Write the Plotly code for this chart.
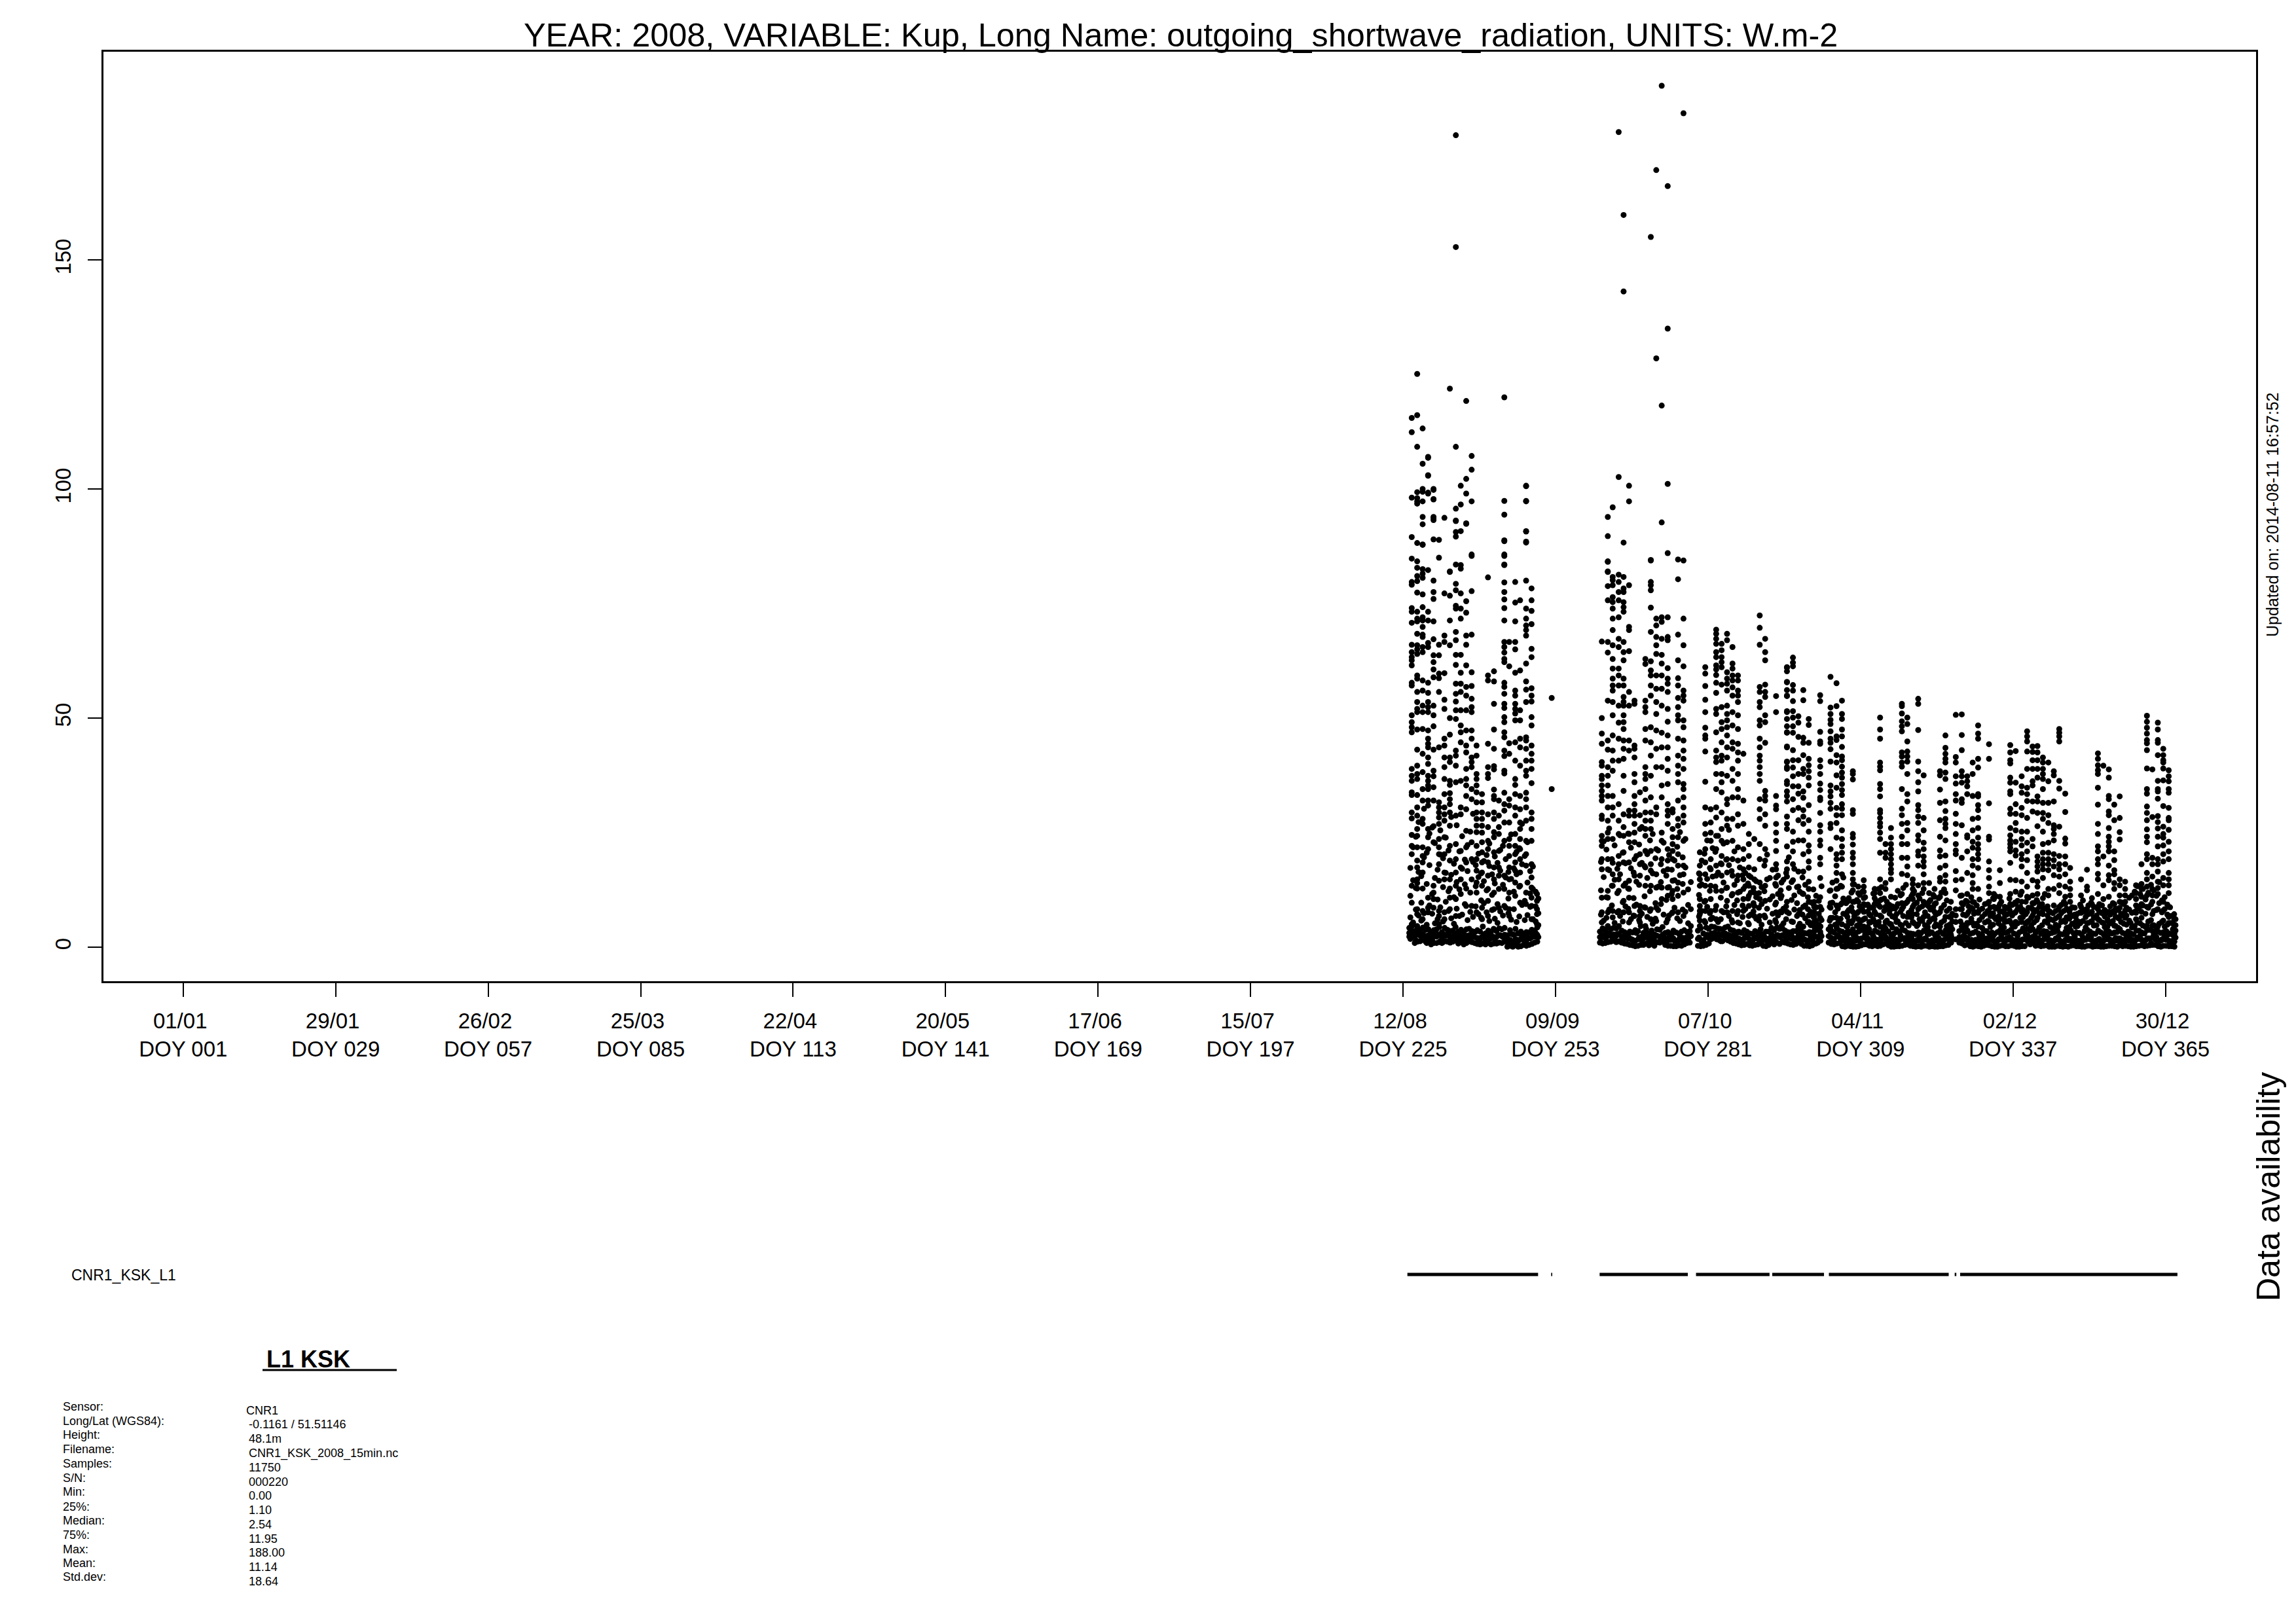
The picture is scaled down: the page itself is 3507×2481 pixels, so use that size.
import plotly.graph_objects as go

W, H = 3507, 2481

tick_doys = [1, 29, 57, 85, 113, 141, 169, 197, 225, 253, 281, 309, 337, 365]
tick_dates = ["01/01", "29/01", "26/02", "25/03", "22/04", "20/05", "17/06", "15/07",
              "12/08", "09/09", "07/10", "04/11", "02/12", "30/12"]
tick_doy_names = ["DOY 001", "DOY 029", "DOY 057", "DOY 085", "DOY 113", "DOY 141", "DOY 169",
                  "DOY 197", "DOY 225", "DOY 253", "DOY 281", "DOY 309", "DOY 337", "DOY 365"]
y_ticks = [0, 50, 100, 150]

# daylight readings: (day of year, values in W/m2), read column by column
aug_sep = [
 (226.6,[115.5,112.4,98.1,89.5,84.8,79.7,79.1,74,73.2,70.8,66,64.4,63.3,62.6,61.5,57.7,57.1,50.6,49.1,48,46.9,38.9,37.4,36.3,33.8,33.2,29.4,28.1,24.5,22.1,20.3,13.4,9.7,5]),
 (227.6,[125.1,116.1,109.2,99.3,97.3,98,96.8,88.2,84.2,82.8,81,79.9,77.4,73.2,71.7,71.1,68.4,65.9,65,64,59.3,58.6,55.7,53.5,52,51.3,47.5,43.1,39.6,37.8,36.7,33.2,30.5,28.7,25.8,24.3,21.8,18.9,17.4,14.8,14,12.8,8.3,7.2,4.6]),
 (228.6,[113.2,105.5,100,97.3,93.9,92.3,87.8,99.4,87.9,82.5,81.5,80.6,77,74.2,72,71.3,69.9,68.2,67.7,65.5,64.4,58.2,56,52.7,51.3,47.6,42.2,38.2,34.5,32,28,26.9,21.8,19.9,18.5,16.3,12.8,7.9,6.1]),
 (229.6,[106.8,102.9,99.2,107,103,99,82.3,73.2,71.3,66.4,65.5,57.7,55.5,53.5,52.4,51.3,47.3,45.5,44.4,43.6,41.4,40,37.4,36.3,35.3,34.5,32,30.9,25.8,24,21.4,10.8,8.6,7.6]),
 (230.6,[99.8,97.7,93.6,89,100,97.8,93.9,93.2,80,77.5,76,71.1,67.2,63.7,62.2,60.6,58.9,52.7,50.6,48.2,43.1,38.5,37.3,34.9,32,26.4,22.9,13.4,11.9,10.5,8.6]),
 (231.6,[88.9,85,66,63.7,59.7,58.7,55.7,43.6,31.6,30.5,29.4,28.3,26.9,23.6,21.8,20.3,18.1,14.5,7.9,6.8,5]),
 (232.6,[93.7,77.2,68,66.6,59.8,54,52,45.5,44,41.4,39.3,36.7,33.4,30.5,29,27.6,24,20.3,16.3,14.8,7.6,6.1]),
 (233.6,[121.9,81.9,76.7,82,71.3,65.9,50,46.4,41.4,40.4,36.3,35.4,33.6,32.3,31.2,29.4,26.5,22.1,18.9,14.8,12.8,10.8,8.3]),
 (234.7,[177.2,152.8,109.2,95.7,93.1,93,90.6,89.6,83.5,79.3,77.9,74.5,73.9,68.8,67,63.8,61.6,57.5,55.3,53.6,51.7,49.8,42.9,41.8,39.6,36,28.7,22.5,19.2,16.3,13.4,10.5,6.8]),
 (235.6,[100.7,96.6,90.8,83.4,82.6,77.2,73.9,71.7,63.8,59.9,57.5,55.7,51.7,48.4,46.9,44.7,36.3,30.5,29,21,17.4,14.8,11.6]),
 (236.6,[119.2,102.2,99,92.4,92.5,75.5,73,68,66,61.5,56.8,54.9,51.7,47.3,44,42.5,38.9,36.7,35.3,33,30.1,25.4,21.8,18.5,12.8,9]),
 (237.6,[107.2,104.2,97.3,85.7,85.4,77.7,68.2,60,57,54.2,52.4,51.3,47.3,45.5,41.4,40.4,39.3,34.5,32.3,22.9,19.2,14.8,9]),
 (238.5,[44,41.8,37.8,36.7,35.3,33.8,31.6,29.4,28,26.5,25.1,22.1,19.2,16.7,14.1,11.9,7.6]),
 (239.5,[33.4,31.6,29.4,28,26.5,25,22.9,20.7,18.5,16.3,13.4,8.6,6.1]),
 (240.6,[80.7,59.3,58.2,44.4,39.3,37.8,36.9,29,26.2,23.2,21.4,18.5,15.6,12.7,10.1,6.8]),
 (241.7,[60.2,58,53.1,47.5,43.3,39.5,38.8,34.4,33,32.3,29.4,28,25.1,24,20.7,17.4,14.8,11.9,8.3]),
 (242.6,[32,28.7,26.2,24.7,21,17.4,15.6,12.7,8.6]),
 (243.6,[120,97.4,94.4,88.6,85.4,83.4,88.8,85.7,83.5,79.6,77.5,75.9,74,71.3,66.6,65.5,64.3,62.9,62.2,57.7,56.8,55.3,53.1,52.2,50.2,49.1,46.9,45.8,42.9,41.7,38.5,37.9,33.7,31.2,29.8,27.2,23.2,15.6,12.7,9]),
 (244.5,[66.6,61.3,44.5,42.2,32.3,30.9,27.2,23.6,22.1,19.9,17.4,14.8,11.9,8.3,6.8]),
 (245.6,[79.7,75.2,71.1,66.6,65,59.9,56,54.9,53.1,52,51,49.5,44.7,40.7,36.7,35.4,33.4,30.5,28.7,24.7,22.1,20.3,18.5,16.7,14.1,11.2]),
 (246.5,[75.7,60.4,51.7,49.5,45.5,43.6,39.6,33,30.1,27.2,25.8,23.6,21.4,19.2,16.3,13.4,9.7]),
 (247.6,[100.6,97.3,90.7,88.3,100.7,97.4,90.8,88.5,80,73.9,71.7,70.2,69.2,68,61.9,58,56.2,53.5,45.8,45.1,43.3,40.7,38.5,37.4,33.7,32.3,30.5,27.6,23.2,20.3,17.8,11.9,9.4]),
 (248.6,[78.3,75.7,73.4,70.5,65.1,63.3,56.5,54.9,53.6,50.2,48.4,44,42.2,40.7,38.9,35.8,29.4,28,25.8,23.2,18.1,15.2,13,10.8,9,6.1]),
 (249.6,[11.6,10.1,8.3,7.2,5]),
 (252.3,[54.4,34.5]),
]
oct_early = [
 (261.5,[66.7,50,46.6,44.4,40.4,39.6,37.4,36.7,35.3,34.1,33,32,28.7,28,24.3,23.2,22.1,19.2,17,10.8,7.6,5.4]),
 (262.6,[93.9,89.7,84.1,81.9,84.2,82,78.8,75.7,66.6,64.3,53.8,45.1,43.1,39.3,37.4,35.3,33,30.5,27.6,25,23.6,19.2,17,12.3,10.8,7.6,4.6]),
 (263.5,[96,80.8,80.1,79,76.4,75.3,73.9,71.7,69.2,65.9,62.9,60.8,58.6,57.1,56,53.5,50.6,46.2,42.9,40.7,38.5,33,30.5,28.7,23.6,18.4,15.9,13.4,7.9,6.5]),
 (264.6,[177.9,102.6,81.3,79.7,77.5,75.7,72,67.3,65.5,60.8,59.3,57.1,52.7,49,45.5,40.7,31.2,27.6,24.7,19.9,18.1,14.8,12.3,7.9]),
 (265.5,[159.8,143.1,88.3,80.8,78.3,77.5,75.3,74.2,73.2,66.6,64.4,62.6,58.6,57.1,54.6,53.5,52.7,50.6,49.1,47.6,45.1,43.3,41.1,37.4,34.1,29,26.2,24.3,20.7,18.5,13.4,10.1,7.6]),
 (266.5,[100.7,97.3,79,69.9,69.2,64.6,55.7,52.7,45.1,42.9,29.8,28.7,24.7,22.9,18.5,14.5,12.7,10.8,7.6,5.4]),
 (267.5,[53.8,53.1,44,43.3,41.4,37.8,36,33,31.2,29.8,28.7,26.9,25,22.9,19.2,15.6,9,6.8]),
 (268.5,[33.8,28.8,25.8,20.3,18.1,15.6,9,7.9,6.8,5.4]),
 (269.5,[62.9,61.8,53.8,52.4,51.3,47.6,45.1,39.3,37.8,36.7,34.5,32,29.4,27.6,25.8,24.3,21,17.4,13.4,8.6,4.6]),
 (270.5,[155,84.4,84.5,79.7,79,77.9,74.1,68.8,62.4,60.4,59.3,57.1,54.9,48,44.7,41.8,37.4,32.7,29.4,27.6,25.8,21,18.1,16.7,13.4,8.3,6.1]),
 (271.5,[169.6,128.5,71.7,70.2,67.7,65.9,64,59.3,56.4,53.5,50.9,47.3,43.3,39.3,30.5,29,21.4,15.9,13,8.6,5.7]),
 (272.5,[188,118.2,92.7,72,71,67.3,63.8,61.9,59.3,56.4,52.7,46.8,43.6,39.3,35.3,32.7,25,23.2,19.2,13,10.5]),
 (273.6,[166.1,135,101.1,86,72,67.7,67,60.9,58.6,57.5,55.7,52,49.2,46.2,43.6,41.1,38.5,35.6,31.2,29.8,28.7,26.9,21.4,18.9,17,13,11.2,6.1]),
 (274.5,[30.1,29.4,25.8,24,22.5,21,19.2,14.5,12.3,10.5,7.6]),
 (275.5,[84.6,80.3,68.2,62.6,58.7,57.1,54.4,52.4,50.6,49.5,45.5,41.8,39.6,37.8,36,32,28,26.5,24,20.3,17.8,14.1,11.2,7.6]),
 (276.5,[182,84.4,71.7,65.9,61.3,56,54.9,53.8,49.5,48,45.1,42.9,41.1,38.9,35.6,34.5,32.7,30.5,28.7,27.2,23.2,17.8,15.9,11.9,6.8]),
 (279.5,[20.7,17.8,15.9,14.8,13.4,10.5,9,7.9,7.2,5.8,4.6]),
 (280.5,[61.1,59.7,57,54,51.3,47.9,46.2,45.5,42.7,36.1,30.5,26.9,24.7,21.4,18.5,15.9,13.4,10.1,7.9,5.4]),
 (281.5,[30.1,27.2,25,23.2,19.2,17,13.4,10.5,7.9,6.1]),
 (282.5,[69.3,68.4,67.3,66.2,64.4,63.3,61.5,60.6,59.4,57.7,55.5,52,50.9,46.9,42.9,41.4,40.4,37.8,34.5,30.5,28.3,24.3,21.4,17.8,15.6,12.3,9,6.1]),
 (283.5,[66.2,64.8,63.3,62.2,61.1,57.3,52.4,49.1,47.6,44.7,41.8,40.7,37.8,36,33.8,29.4,25.8,23.2,19.9,18.1,15.6,12.3,7.9]),
 (284.5,[68.4,67,60,58.6,57.5,56,52.7,50.9,49.5,48,46.2,43.6,41.4,37.4,32.3,31.2,28,26.5,22.9,19.2,16.3,13,10.1,7.6]),
 (285.5,[65.5,61.9,60.8,59.3,58.2,56.7,54.9,51.3,48.4,44.7,43.3,38.9,36.3,32.7,28,23.2,19.2,15.6,11.6,7.9,5.4]),
 (286.5,[59.3,58.2,56,54.9,53.5,50.6,47.6,44.4,42.5,40.7,37.8,34.5,32.7,29,26.5,21.8,18.9,15.6,11.9,7.9,5.4]),
 (287.5,[42.2,32,26.9,21.4,19.2,17,14.8,12.7,10.5,7.9]),
 (288.5,[24.7,22.5,19.9,17.4,15.6,13.4,11.2,9,6.8,5]),
 (289.5,[23.6,17,14.8,11.9,9,6.8]),
 (290.5,[72.4,69.7,66,56.8,55.7,53.5,52.4,49.5,48.4,45.5,43.6,41.8,40.7,39.3,37.8,36.3,32.3,30.1,28,22.5,19.2,14.1,10.5,6.8]),
 (291.5,[67.3,64.4,62.6,57.3,55.7,54.6,50.6,49.1,44.6,34.1,33,32,29,26.5,21.4,18.9,13.4,10.1,6.5]),
 (293.5,[54.8,51.3,33,30.9,30.1,26.9,25,23.2,21,18.1,17,15.2,13.4,9.7,7.6,5.4]),
 (294.5,[14.1,11.2,7.6,4.6]),
]
oct_nov = [
 (295.5,[61.1,57.9,54.9,51.3,49.8,46.9,43.6,40.4,39.3,35.6,33,26.9,61,60.2,57.8,56.1,54.8,51.5,48.2,46.8,43.8,40.5,38.9,36.2,34,31.8,28.5,25.8,22,18.7,17,15.4,9.9,7.7]),
 (296.6,[63.2,62.1,61.3,57.2,56,53.7,51.5,50.1,48.2,46.8,43,40.8,39.2,37.3,35.1,32.3,29.9,25.2,23,20.9,18.1,14.6,5.5]),
 (297.6,[50.4,49,45.9,40.8,37.8,35.1,33.5,30.4,27.7,23.3,16.5,13.2,7.2,4.5]),
 (298.5,[56.1,53.9,45.7,44.6,41.9,38.9,37.8,34,32.6,29.9,28.5,26.9,23.3,20.3,16.5,11.6,8.8,4.5]),
 (299.5,[49.8,48.5,44.6,41.1,39.7,38.4,37,35.3,31,27.7,25.2,22.2,20.9,18.7,17.3,14.3,12.7,9.9,6.9,5.5]),
 (300.5,[9.9,8.8,7.7,6.6,5.5,4.5,3.4]),
 (301.6,[55,53.7,47,44.9,44.4,40.8,39.4,37.8,35.7,34.3,32.6,32.1,29.3,26.6,25.2,23.3,22.2,19.5,18.1,15.1,10.9,8.8,6.4,4.5,3.4]),
 (303.5,[59,52.3,50.9,49.6,48.7,47.1,45.5,44.6,43.2,40.5,35.3,34,32.9,31.5,30.2,26.9,26,21.4,12.4,9.6,8.6,6.4,4.5,3.4]),
 (304.6,[57.6,52.6,46,45.2,41.9,40.3,37.5,34.8,30.4,28.8,27.1,23.9,20.3,19.2,17.8,16.2,14.5,12.7,9.1,6.4,4.5]),
 (305.6,[53.8,50.9,49.8,47.5,46,43.7,41.6,40.8,39.4,38.1,37,35.6,34.3,33.2,31.2,30.2,28.8,25.5,23.6,22,20.6,19.2,15.9,13.2,9.6,5]),
 (306.6,[9.9,7.7,6.6,4.5,2.8]),
 (307.6,[38.4,37.8,36.6,29.9,29.1,24.7,23.9,22.4,20.6,19.5,18.1,16.2,14.8,13.7,12.4,9.9,7.7,5.8,3.9]),
 (308.6,[13.2,11.8,9.9,7.7,6.1,4.5]),
 (309.6,[14.6,13.2,12.1,10.7,9.4,7.7,6.1,4.5]),
 (310.6,[8.8,7.2,5.5,3.9]),
 (311.6,[12.7,11.8,10.7,9.4,7.7,5.5]),
 (312.6,[50.1,47.5,45.5,40.3,39.4,38.6,35.6,34.5,32.9,29.9,29.3,28.2,27.1,26.3,25,23.6,20.6,14.8,11.8,10.2,8.8,6.9,4.5]),
 (313.6,[22.5,20.6,19.5,14,12.7,8.8,5.5]),
 (314.6,[26,23.9,22.5,21.4,20.3,19.2,18.1,17,16.2,14.8,11,8.3,5]),
 (315.6,[8.8,7.2,5.5,3.9]),
 (316.6,[53.1,52.6,51,49.3,48.2,47.1,42.5,41.6,40.3,39.4,34.5,30.2,28.8,26.9,24.1,22.5,19.5,16,11.6,9.6,8.3,4.7]),
 (317.6,[50.1,48.7,44.9,42.7,41.6,40.5,37.8,33.4,31.8,27.1,25.5,22.5,19.5,17.6,15.7,9.9,6.6]),
 (318.6,[14.8,13.8,12.7,11.6,10.5,8.8,7.2,5.5]),
 (319.6,[54.2,53.1,47.4,40.5,38.4,36,34,31,29.9,28.5,27.1,24.4,23.3,20.9,20,17.8,13.5,11.3,8.3,5]),
 (320.6,[37.5,28.2,25.5,22.8,21.4,19.8,18.7,17.6,15.9,14,12.7,9.9,6.6]),
 (321.6,[14,11.8,9.9,8.8,5.5,3.4]),
 (322.6,[12.7,11,9.4,7.7,6.1,4.5]),
 (323.6,[38.4,37.5,34.4,31.5,27.7,24.1,21.1,19.8,17.3,15.1,14.3,11,7.7,4.5]),
 (324.6,[46.2,43.5,42.2,41.1,40.3,38.1,36.7,31.8,29.7,28,26.9,26,23.3,20,17.8,15.7,14.3,11.8,6.6]),
 (325.6,[9.9,6.6,4.5,2.8]),
 (326.5,[50.7,41.5,40.3,37.3,35.7,33.4,32,29.1,26.9,24.7,22.5,21.1,20.3,16.6,14.6,12.4,8.3,6.9,5.5,1.7]),
 (327.6,[50.8,46.3,43,38.4,37.3,35.9,32.3,31.5,26.6,19.5,14.8,11.3,9.6,8.3,4.5]),
 (328.6,[37.3,36.2,35.1,33.4,24.4,23.9,20.9,16.2,11.6,9.9,7.2,5.3]),
 (329.6,[40.3,37.8,33,28,25.5,23,21.7,19.2,17.8,15.7,14,12.7,9.9,8.3,5.3]),
 (330.6,[48.4,46.6,45.5,41.1,39.2,33.4,32.9,31,29.9,28.2,26,23.9,22.5,21.4,20.3,19.2,17.3,12.7,7.5,4.5]),
]
december = [
 (332.6,[44.3,41.1,31.4,24.1,23.5,18.7,16.8,15.1,13.2,11.8,9.9,7.7,5.5]),
 (333.5,[11.6,10.5,8.8,6.6]),
 (334.6,[16.8,14,11,9.4,7.7,6.1]),
 (335.5,[8.8,7.2,5.5]),
 (336.5,[44.1,42.5,40.8,40.1,37,35.9,34,33.4,30.2,29.1,26,24.4,23.3,22.5,21.7,20.9,18.4,14.7,11.6,9.4,7.7,5.5]),
 (337.5,[42.8,35.9,31.2,29.1,27.1,25.5,23,21.1,20,14.6,12.1,9.4,7.7,5.5]),
 (338.6,[37.3,35.1,33.7,30.4,28.8,25.2,23.6,22.2,20.3,19.2,17.6,14.3,12.1,9.9,7.7,5.5]),
 (339.6,[47.1,46,44.9,42.7,38.9,34.8,33.4,31.9,28.2,25.2,22.8,20.9,19,16.2,13.2,11,7.7,5.5]),
 (340.6,[43.8,42.6,40.8,38.9,36.2,35.3,31.8,29.6,23.6,22,14.6,11.3,9.6,8.3,6.9]),
 (341.5,[43.9,42.5,40.8,38.9,37,32.9,31.8,29.3,26.4,19.8,18.7,17.6,16.5,14.3,13.2,11.6,9.9,6.4]),
 (342.5,[41.4,40.3,38.9,37.8,36.7,34.5,31.5,29.3,28,25.2,22.5,20.6,19.2,18.1,17,15.1,10.7,8.6,7.2]),
 (343.5,[40.3,36.2,31.5,28.8,27.1,22.8,20.6,19.2,18.1,16.8,12.7,11.3,8,6.1]),
 (344.5,[38.4,37.5,31.8,26.6,25.8,24.7,23.3,20.3,19,17.6,15.7,12.7,9.1]),
 (345.5,[47.6,46.8,46,44.9,36.3,34.6,26.3,19.9,18.1,17,15.4,13.5,11.8,8.8,6.6]),
 (346.6,[33.5,29.5,23.7,22.6,19.8,18.1,15.9,13.2,11,9.4,5.5]),
 (347.5,[17.3,14.3,12.7,11.3,9.9,8.3,7.2]),
 (348.5,[6.6,5.5,4.5]),
 (349.5,[14.8,11.3,8.8,7.5,5.5]),
 (350.6,[16.9,13.2,12.4,8.3,7.2,5.3]),
 (351.5,[10.7,9.4,7.7,5.5]),
 (352.6,[42.3,41.1,39.7,38.6,37.8,34.8,31.1,26.9,24.7,22,20.9,19.2,18.1,16,14.8,11.6,8.3,6.1]),
 (353.6,[39.6,19.8,13.5,10.5,7.7,5.3]),
 (354.6,[38.8,37,33,32.3,29.6,28.8,26,24.1,23,22,20.9,17.8,15.7,14.6,11,7.7,5.5]),
 (355.6,[31.1,27.7,20.9,19,16.8,15.9,14,12.7,9.4,7.5,4.7]),
 (356.6,[32.9,28.2,25.1,23.5,14.8,13.5,11.3,9.9,8.6,6.6]),
 (357.6,[14.3,12.7,11.3,9.9,8,6.4]),
 (358.6,[5.3]),
 (359.6,[13.5,11.8,10.5,9.1,7.5,6.1]),
 (360.6,[18.1,13.8,12.7,11,9.4,7.7,6.4]),
 (361.6,[50.5,49.2,47.9,46.6,45.2,44.5,43,39,34.5,33.5,30.7,29.3,27.7,25.7,24.1,22.9,20.3,19.2,16.2,14.8,13.2,11.3,8.8,4.7]),
 (362.6,[38.8,28.4,19.5,18.1,15.4,12.7,11.3,9.9,7.2,4.7]),
 (363.6,[49,47.5,45.2,44.6,41.9,36.3,34.5,34,32.4,28.6,27.3,25.9,24.1,22,19.2,18.1,16.5,14.3,12.9,11.6,8.3,4.5]),
 (364.6,[43.3,41.9,40.8,40.3,39,36.4,30.8,26.3,24.7,23.9,22.2,20.3,18.7,15.1,13.5,9.9,8,5.8]),
 (365.6,[38.6,37.3,36.2,34.5,33.7,30.4,28.2,27.7,25.6,23,20.9,19.2,16.2,14.8,13.5,11.8,8.8,6.6,5.3]),
 (366.6,[7.2,6.1,4.7,3.4,2.3]),
]

# low night-time band: day of year, then readings early and mid-day in that day
night_days_a = list(range(226, 250))
night_a = [[2.3,3.1,4.2,2.6,3.4,4.6],[0.9,2.2,3.5,1.2,2.8,4.1],[1.3,2.5,3.6,1.6,2.9,4.3],[1.2,2.4,3.8,1.4,2.6,3.9],[0.6,1.8,3.2,0.9,2.4,3.7],[0.9,2.3,3.9,1.1,2.6,4.4],[0.9,2.1,3.3,1.3,2.7,4.2],[1.2,2.6,3.8,1.0,2.2,3.5],[1.2,2.4,3.6,1.5,2.9,4.4],[0.8,2.0,3.4,1.1,2.5,3.8],[0.6,1.9,3.1,0.9,2.3,3.9],[1.3,2.6,4.0,1.1,2.4,3.5],[0.9,2.2,3.3,0.7,2.0,3.7],[0.6,1.8,3.4,0.8,2.3,4.5],[0.6,1.7,3.0,0.9,2.4,3.6],[0.6,1.9,3.3,0.8,2.2,4.0],[0.8,2.2,3.5,1.0,2.6,4.1],[0.9,2.4,3.9,1.2,2.7,4.2],[0.1,1.2,2.6,0.3,1.6,3.7],[0.1,1.1,2.8,0.4,1.8,4.0],[0.1,1.3,3.0,0.2,1.7,3.4],[0.5,1.6,2.9,0.3,1.5,3.3],[0.5,1.9,3.2,0.7,2.2,3.8],[1.0,2.3,3.6,1.2,2.7,4.3]]
night_days_b = list(range(261, 278))
night_b = [[1.0,2.2,3.4,0.8,2.6,4.1],[0.9,2.1,3.6,1.1,2.5,4.4],[1.2,2.6,3.9,1.4,2.8,4.2],[1.1,2.5,4.1,1.3,2.9,4.6],[1.0,2.3,3.6,0.8,2.0,3.3],[0.7,1.9,3.0,0.5,1.8,3.4],[0.4,1.6,3.2,0.2,1.4,3.7],[0.3,1.7,3.5,0.5,2.2,4.6],[0.5,1.9,3.1,0.8,2.4,4.0],[0.4,1.6,3.0,0.7,2.1,3.6],[0.3,1.4,2.8,1.1,2.5,3.9],[1.0,2.3,3.8,1.2,2.7,4.4],[0.5,1.8,3.1,0.3,1.5,3.3],[0.3,1.6,2.9,0.2,1.9,3.6],[0.2,1.3,3.2,0.4,1.7,3.0],[0.3,1.5,3.4,0.6,2.0,3.7],[0.9,2.2,3.3,1.0,2.3,3.5]]
night_days_c = list(range(279, 293))
night_c = [[0.3,1.8,3.6,0.2,1.6,4.1],[0.3,1.5,3.0,0.5,2.2,4.3],[0.8,2.4,4.0,1.8,3.0,4.5],[2.0,3.1,4.4,1.7,2.9,4.1],[1.5,2.8,4.0,1.3,2.6,3.9],[1.8,3.0,4.3,1.5,2.7,4.5],[1.2,2.5,3.8,0.9,2.1,3.6],[0.8,2.0,3.3,0.6,1.9,3.4],[0.4,1.6,3.1,0.5,1.9,3.7],[0.7,2.1,3.4,0.4,1.7,3.0],[0.3,1.6,2.9,0.5,2.1,3.5],[0.6,1.8,3.1,1.1,2.4,3.9],[0.3,1.5,2.7,0.2,1.7,3.4],[0.5,1.9,3.4,1.2,2.7,4.2]]
night_days_d = list(range(293, 302))
night_d = [[0.6,2.1,3.7,1.0,2.6,4.3],[0.7,2.2,4.0,1.2,2.6,4.1],[1.0,2.4,3.6,0.8,2.0,3.3],[0.6,1.9,3.2,0.5,1.8,3.5],[0.7,2.0,3.5,1.5,2.8,4.2],[0.7,1.6,3.4,0.3,1.7,3.1],[0.3,1.4,3.0,0.2,1.5,3.3],[0.4,1.6,3.2,0.8,2.4,4.0],[1.0,2.2,3.8,1.4,2.9,4.5]]
night_days_e = list(range(303, 326))
night_e = [[1.0,2.4,3.9,0.7,2.0,3.6],[0.6,1.8,3.2,0.8,2.3,4.1],[0.9,2.2,3.6,0.2,1.5,3.4],[0.1,1.3,2.9,0.3,1.7,3.5],[0.2,1.6,3.3,0.1,1.2,2.8],[0.1,1.4,3.1,0.2,1.6,3.4],[0.4,1.9,3.7,0.6,2.1,3.9],[0.6,1.7,3.0,0.3,1.5,3.2],[0.2,1.4,2.9,0.4,1.8,3.6],[0.2,1.6,3.3,0.3,1.4,3.0],[0.6,1.9,3.5,0.8,2.2,4.0],[0.4,1.7,3.4,0.1,1.3,2.7],[0.1,1.2,3.0,0.2,1.6,3.3],[0.2,1.5,3.2,0.3,1.9,3.8],[0.5,2.0,3.6,0.6,1.8,3.1],[0.3,1.5,3.0,0.2,1.4,2.9],[0.1,1.3,2.8,0.2,1.5,3.2],[0.1,1.4,3.1,0.3,1.7,3.6],[0.3,1.6,3.3,0.1,1.2,2.9],[0.2,1.5,3.2,0.1,1.4,2.7],[0.1,1.3,3.0,0.2,1.5,3.4],[0.2,1.4,2.9,0.4,1.8,3.7],[0.5,1.9,3.5,1.0,2.4,3.8]]
night_days_f = list(range(327, 367))
night_f = [[1.0,2.2,3.5,0.8,2.0,3.8],[0.4,1.7,3.2,0.6,1.9,3.6],[0.2,1.4,2.9,0.1,1.3,3.1],[0.3,1.6,3.4,0.2,1.5,3.0],[0.1,1.2,2.8,0.3,1.8,3.6],[0.5,1.9,3.5,0.4,1.6,3.0],[0.2,1.5,3.2,0.1,1.3,2.9],[0.1,1.4,3.3,0.3,1.7,3.7],[0.4,1.8,3.5,0.2,1.4,3.1],[0.2,1.6,3.4,0.4,1.9,3.8],[0.3,1.5,3.0,0.1,1.3,2.8],[0.1,1.4,3.2,0.2,1.6,3.5],[0.2,1.7,3.6,1.4,2.6,4.0],[0.6,2.0,3.6,0.9,2.3,3.9],[0.3,1.5,3.1,0.4,1.9,3.7],[0.2,1.4,2.9,0.3,1.7,3.5],[0.4,1.8,3.4,0.1,1.3,3.0],[0.1,1.3,3.1,0.1,1.5,3.3],[0.3,1.7,3.7,0.2,1.4,2.9],[0.1,1.2,2.8,0.2,1.6,3.4],[0.1,1.5,3.3,0.3,1.8,3.6],[0.4,1.6,3.0,0.2,1.5,3.2],[0.2,1.4,3.1,0.1,1.2,2.7],[0.1,1.6,3.5,0.3,1.9,3.8],[0.3,1.7,3.4,0.1,1.3,3.0],[0.2,1.4,2.9,0.2,1.6,3.6],[0.1,1.3,3.2,0.1,1.4,2.8],[0.2,1.7,3.7,0.3,1.8,3.4],[0.3,1.5,3.0,0.2,1.5,3.2],[0.1,1.4,3.3,0.4,1.9,3.9],[0.2,1.6,3.1,0.3,1.4,2.9],[0.2,1.5,3.4,0.1,1.3,3.0],[0.1,1.3,2.8,0.2,1.7,3.6],[0.3,1.8,3.6,0.4,1.6,3.2],[0.2,1.4,3.0,0.3,1.9,3.7],[0.4,1.9,3.8,0.5,2.1,3.5],[0.5,1.7,3.2,0.2,1.5,3.4],[0.1,1.4,3.1,0.3,1.7,3.3],[0.3,1.6,3.5,0.2,1.4,3.0],[0.2,1.3,2.8,0.1,1.2,2.9]]

# dense low readings between the day columns: four around d+0.35, four around d+0.85
fill_a = [[1.8,6.5,11.2,17.3,2.7,5.4,14.6,21.8],[1.5,8.2,12.9,24.1,3.0,6.9,16.4,27.3],[2.4,5.8,9.7,15.5,1.9,7.4,19.6,30.2],[0.9,4.9,13.8,20.6,2.2,9.1,17.9,24.8],[1.6,7.3,11.6,26.1,3.3,5.2,15.1,22.7],[2.8,6.1,10.4,16.9,1.3,8.7,20.2,25.5],[1.1,5.6,13.1,19.4,2.5,9.9,16.2,23.9],[3.1,7.9,12.2,21.1,1.7,6.3,15.8,28.4],[2.0,5.1,10.9,18.2,2.9,8.4,14.2,26.6],[1.4,6.8,12.6,20.9,3.2,7.1,17.1,24.2],[2.6,9.4,13.7,19.1,1.2,5.9,16.6,22.3],[1.9,7.7,11.9,25.2,2.3,6.6,18.6,29.1],[3.4,8.9,13.3,17.9,1.6,7.2,15.3,20.4],[2.1,6.4,10.2,16.1,2.8,9.6,14.4,18.8],[1.3,7.6,12.4,20.1,3.0,5.7,17.7,22.6],[2.4,8.1,11.4,15.9,1.8,6.2,13.9,19.8],[0.9,5.3,9.4,18.4,2.6,7.8,16.7,21.2],[2.2,6.9,13.6,22.1,1.5,8.6,15.2,19.2],[1.2,7.4,10.6,16.4,2.9,6.0,14.9,24.6],[2.7,8.3,12.1,17.2,0.9,5.5,15.9,20.8],[1.6,6.7,13.2,21.6,2.4,9.2,18.1,26.9],[0.8,5.9,10.1,19.9,2.1,7.0,14.1,22.9],[1.9,8.8,11.7,16.6,2.8,6.1,12.7,17.6],[3.1,5.6,8.9,12.1,2.2,4.8,7.4,10.6]]
fill_b = [[1.9,7.1,12.4,18.6,2.6,5.8,15.3,23.1],[1.4,6.4,10.9,21.3,3.0,8.2,16.8,25.9],[2.3,9.1,13.4,19.2,1.7,5.3,14.7,22.2],[2.9,7.6,11.8,17.1,1.2,6.8,15.9,24.4],[1.1,5.6,9.8,20.6,2.7,8.9,13.9,18.3],[2.5,8.4,12.8,24.8,1.8,6.1,17.2,21.7],[1.3,6.9,10.7,16.3,3.1,9.3,14.3,19.9],[2.1,5.9,13.6,22.4,1.5,7.3,18.4,26.2],[3.2,8.7,11.1,17.7,2.2,6.6,15.1,20.3],[1.6,7.9,12.2,23.3,2.8,5.1,16.1,24.7],[2.4,6.2,9.6,19.4,1.1,8.1,13.2,21.1],[1.7,9.4,14.2,18.1,2.6,7.1,16.6,22.8],[0.9,5.4,10.3,15.6,2.2,6.9,13.1,20.1],[2.9,7.4,11.6,16.9,1.4,8.6,14.6,18.9],[1.2,6.3,12.7,21.9,2.5,5.7,15.7,25.1],[2.0,8.2,13.8,19.6,0.9,7.7,17.4,23.6],[1.6,5.2,9.2,12.6,2.4,4.6,8.3,14.2]]
fill_c = [[2.1,6.7,11.4,16.1,1.2,7.9,13.7,18.9],[0.9,5.7,9.9,20.4,2.7,8.8,14.9,23.3],[1.6,7.4,12.3,17.3,2.3,6.4,15.4,21.6],[2.8,8.1,13.2,20.8,1.9,5.5,16.3,24.3],[1.3,6.1,10.8,18.3,3.0,7.6,14.1,22.6],[2.2,8.9,12.9,19.1,1.5,6.8,17.9,25.6],[1.8,5.9,11.3,16.6,2.6,9.2,13.6,20.9],[3.1,7.2,10.2,14.6,1.1,5.2,12.1,17.4],[1.4,6.6,9.1,15.7,2.4,8.3,13.3,16.2],[2.7,5.3,10.6,13.9,0.9,7.1,11.9,15.3],[1.7,7.8,9.6,12.9,2.1,6.2,10.9,14.4],[0.8,5.8,8.6,11.8,2.9,4.9,9.4,13.1],[2.3,6.9,12.2,17.8,1.3,8.4,14.8,20.2],[1.6,5.4,10.4,15.1,2.5,7.3,11.1,16.9]]
fill_d = [[1.4,5.9,9.3,13.8,2.6,6.9,11.6,15.6],[2.2,7.8,10.7,12.4,1.1,5.2,8.4,14.7],[1.7,6.1,8.9,16.2,2.9,7.4,12.9,19.6],[2.5,5.6,10.3,14.2,1.3,8.2,11.3,17.1],[0.9,6.8,9.6,13.1,2.1,5.1,8.1,12.1],[2.7,7.1,11.7,15.2,1.6,6.3,9.1,13.6],[1.2,5.4,8.3,10.9,2.3,4.8,7.7,9.8],[2.0,6.6,9.4,12.6,0.8,5.7,8.7,11.2],[1.5,4.9,7.3,10.1,2.4,5.9,8.2,13.3]]
fill_e = [[2.3,5.8,8.8,12.3,1.2,6.4,9.7,14.1],[0.9,4.9,7.6,11.1,2.6,5.3,8.4,12.8],[1.8,6.2,9.3,13.4,2.1,7.3,10.6,15.2],[2.6,4.6,7.1,9.6,0.8,5.6,8.1,10.7],[1.1,5.2,8.7,11.9,2.4,6.7,9.9,13.7],[2.0,4.7,7.4,10.3,1.4,5.1,8.9,11.4],[0.7,5.9,8.2,12.1,2.8,6.3,9.2,10.9],[1.9,4.4,7.8,9.3,1.1,5.4,6.9,8.6],[2.4,6.1,8.6,11.7,0.9,4.8,7.2,10.1],[1.3,5.5,9.1,12.7,2.2,6.6,10.4,13.1],[2.7,4.5,7.9,10.6,1.6,5.8,8.3,9.9],[0.8,5.1,7.3,9.2,2.3,4.3,6.7,8.9],[1.7,6.4,8.4,10.8,1.0,5.6,9.4,12.3],[2.5,4.9,7.7,11.3,1.8,6.8,8.8,12.9],[1.2,5.3,9.6,13.6,2.6,4.7,7.5,10.4],[2.1,6.5,8.1,11.1,0.9,5.2,9.3,12.2],[1.5,4.6,7.2,9.7,2.4,6.1,8.6,10.6],[0.7,5.7,8.9,11.8,1.9,4.8,7.6,9.4],[2.8,4.4,6.8,9.1,1.3,5.9,8.2,10.3],[1.1,6.3,8.7,11.4,2.2,5.0,7.1,9.6],[2.0,4.7,7.4,10.7,0.8,5.4,8.5,11.9],[1.6,5.8,9.2,12.6,2.5,4.6,7.9,10.2],[0.9,4.9,6.6,8.4,1.8,3.9,5.6,7.3]]
fill_f = [[1.3,5.6,8.3,11.2,2.4,4.8,7.1,9.3],[2.1,4.5,6.9,10.1,0.8,5.3,7.7,8.9],[1.6,6.2,8.6,10.9,1.1,4.7,7.3,9.8],[0.7,5.1,7.6,9.1,2.3,5.9,8.1,10.4],[2.6,4.2,6.6,8.4,1.4,5.4,7.2,9.4],[1.2,5.7,7.9,9.6,2.0,4.4,6.8,8.7],[2.4,4.9,7.4,10.7,0.9,6.1,8.4,11.1],[1.7,5.2,6.7,8.8,2.6,4.6,7.8,9.9],[0.8,4.3,6.3,7.9,1.9,5.6,7.1,8.6],[2.2,5.8,8.2,10.6,1.3,4.9,6.9,9.2],[1.5,4.5,7.5,9.7,2.5,5.2,8.3,10.1],[0.9,6.4,8.8,11.4,1.7,4.1,6.6,8.1],[2.7,5.1,7.2,9.9,1.1,5.7,8.6,10.8],[1.4,4.7,6.4,8.6,2.2,5.4,7.6,9.6],[2.0,5.9,8.1,10.3,0.8,4.3,7.3,8.8],[0.7,4.8,7.7,9.4,2.4,5.6,8.4,11.6],[2.5,5.3,6.9,8.9,1.5,4.4,6.1,7.7],[1.2,4.1,5.9,7.4,1.9,4.9,6.3,7.9],[2.3,4.6,6.7,8.3,0.9,5.5,7.4,9.2],[1.0,5.8,7.9,9.9,2.6,4.2,6.5,8.4],[1.8,4.4,6.2,7.8,1.2,5.1,6.8,8.7],[2.4,4.9,7.1,8.6,0.7,4.6,5.7,7.3],[0.9,5.2,7.6,9.3,2.1,5.7,7.8,10.2],[1.6,4.3,6.6,8.2,2.5,5.3,7.2,9.1],[2.2,5.6,7.3,9.7,1.1,4.7,6.4,8.8],[1.3,4.8,6.9,8.7,1.8,5.9,7.7,9.4],[0.8,5.4,7.4,9.1,2.3,4.4,6.7,8.1],[2.6,4.5,6.1,7.6,1.4,5.2,7.1,8.9],[1.1,5.7,7.8,9.6,2.0,4.6,6.6,8.4],[1.9,4.2,6.3,8.1,0.9,5.5,7.3,9.8],[0.7,5.1,7.2,9.4,2.4,4.9,6.9,8.6],[2.3,5.8,8.2,10.8,1.6,4.3,7.5,11.3],[1.2,4.6,7.7,12.1,2.1,5.4,8.4,13.3],[2.5,5.2,8.9,11.6,0.8,4.7,9.1,12.7],[1.5,4.4,7.3,10.4,1.9,5.6,8.6,11.9],[0.9,5.9,9.3,13.6,2.7,4.8,7.9,12.4],[2.2,4.3,8.1,11.2,1.3,5.1,9.6,14.2],[1.7,5.5,7.6,10.2,2.4,4.5,8.3,10.9],[2.6,4.9,7.1,9.3,1.1,5.3,6.8,8.7],[1.4,3.9,5.2,6.9,2.1,3.6,4.8,6.1]]

# data availability bars (day of year)
avail_start = [225.8, 252.2, 261.1, 278.8, 292.8, 303.2, 326.3, 327.3]
avail_end = [249.8, 252.4, 277.3, 292.3, 302.3, 325.2, 326.6, 367.2]
avail_label = "CNR1_KSK_L1"

stat_names = ["Sensor:", "Long/Lat (WGS84):", "Height:", "Filename:", "Samples:", "S/N:", "Min:",
              "25%:", "Median:", "75%:", "Max:", "Mean:", "Std.dev:"]
stat_values = ["CNR1", "-0.1161 / 51.51146", "48.1m", "CNR1_KSK_2008_15min.nc", "11750", "000220",
               "0.00", "1.10", "2.54", "11.95", "188.00", "11.14", "18.64"]
title_text = "YEAR: 2008, VARIABLE: Kup, Long Name: outgoing_shortwave_radiation, UNITS: W.m-2"

xs, ys = [], []
for d, vals in aug_sep + oct_early + oct_nov + december:
    xs += [d] * len(vals)
    ys += vals
for days, rows, fills in [(night_days_a, night_a, fill_a), (night_days_b, night_b, fill_b),
                          (night_days_c, night_c, fill_c), (night_days_d, night_d, fill_d),
                          (night_days_e, night_e, fill_e), (night_days_f, night_f, fill_f)]:
    for d, row, fill in zip(days, rows, fills):
        xs += [d + 0.15] * 3 + [d + 0.65] * 3 + [d + 0.35] * 4 + [d + 0.85] * 4
        ys += row + fill

av_x, av_y = [], []
for a, b in zip(avail_start, avail_end):
    av_x += [a, b, None]
    av_y += [1, 1, None]

FONT = "Liberation Sans"
fig = go.Figure()
fig.add_trace(go.Scatter(x=xs, y=ys, mode="markers",
                         marker=dict(color="black", size=9, line=dict(width=0)),
                         showlegend=False, hoverinfo="skip"))
fig.add_trace(go.Scatter(x=av_x, y=av_y, yaxis="y2", mode="lines",
                         line=dict(color="black", width=5), showlegend=False, hoverinfo="skip"))


def px(x):
    return x / W


def py(y):
    return 1 - y / H


def note(x, y, text, size, xanchor="left", angle=0, bold=False):
    if bold:
        text = "<b>" + text + "</b>"
    fig.add_annotation(x=px(x), y=py(y), xref="paper", yref="paper", text=text, showarrow=False,
                       xanchor=xanchor, yanchor="middle", textangle=angle,
                       font=dict(family=FONT, size=size, color="black"))


note(1803, 54, title_text, 50.4, xanchor="center")
note(3471, 787, "Updated on: 2014-08-11 16:57:52", 25, xanchor="center", angle=-90)
note(3465, 1813, "Data availability", 50, xanchor="center", angle=-90)
note(107, 1948, avail_label, 23)
note(405, 2076, "L1 KSK", 36, bold=True)
fig.add_shape(type="line", xref="paper", yref="paper", x0=px(401), x1=px(606), y0=py(2093), y1=py(2093),
              line=dict(color="black", width=3))
name_y = [2149, 2171, 2192, 2214, 2236, 2258, 2279, 2302, 2323, 2345, 2367, 2388, 2409]
value_y = [2155, 2176, 2198, 2220, 2242, 2264, 2285, 2307, 2329, 2351, 2372, 2394, 2416]
for i, (n, v) in enumerate(zip(stat_names, stat_values)):
    note(94, name_y[i], n, 18)
    note(374 if i == 0 else 378, value_y[i], v, 18)

tick_text = [a + "\u00a0<br>" + b for a, b in zip(tick_dates, tick_doy_names)]
axis_common = dict(showline=True, linecolor="black", linewidth=3, mirror=True, ticks="outside",
                   ticklen=21, tickwidth=2, tickcolor="black", showgrid=False, zeroline=False,
                   tickfont=dict(family=FONT, size=33, color="black"))
fig.update_layout(
    width=W, height=H, margin=dict(l=0, r=0, t=0, b=0), paper_bgcolor="white", plot_bgcolor="white",
    xaxis=dict(domain=[158 / W, 3446 / W], range=[-13.64, 381.64], tickmode="array",
               tickvals=tick_doys, ticktext=tick_text, tickangle=0, anchor="y",
               ticklabelstandoff=8, **axis_common),
    yaxis=dict(domain=[1 - 1499 / H, 1 - 79 / H], range=[-7.43, 195.43], tickmode="array",
               tickvals=y_ticks, ticktext=[str(v) for v in y_ticks], tickangle=-90, anchor="x",
               ticklabelstandoff=13, **axis_common),
    yaxis2=dict(domain=[1 - 1960 / H, 1 - 1934 / H], range=[0, 2], visible=False, anchor="x"),
)
fig.write_html("out.html", config={"displayModeBar": False},
               post_script="document.body.style.margin='0';")
